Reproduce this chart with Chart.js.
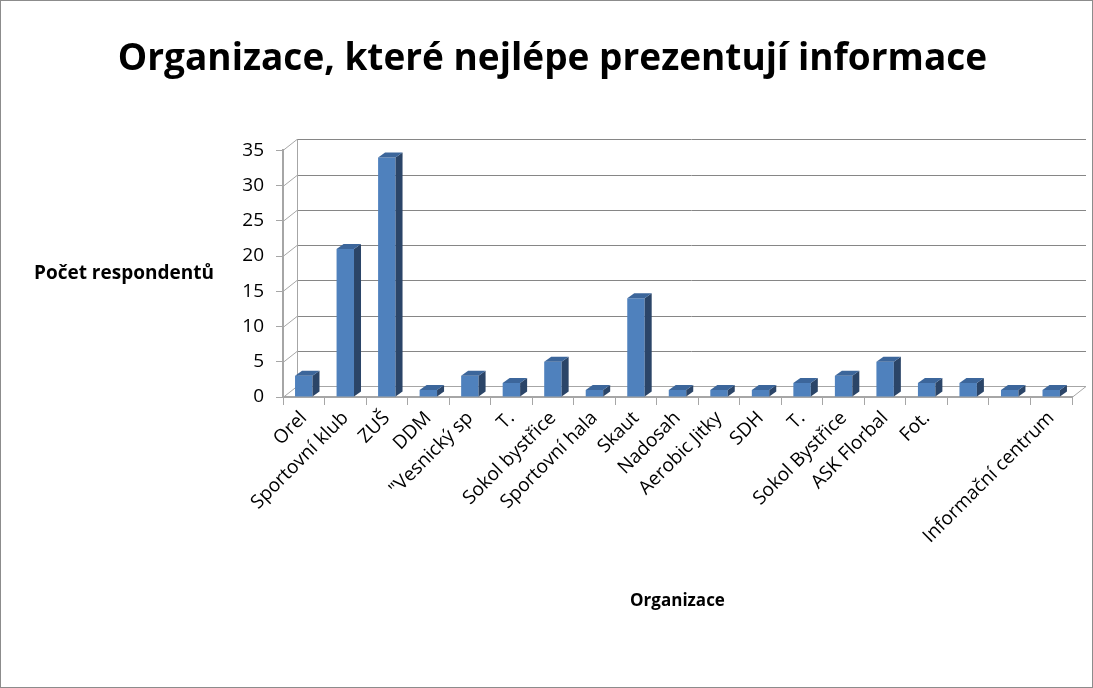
<!DOCTYPE html>
<html>
<head>
<meta charset="utf-8">
<script src="https://cdn.jsdelivr.net/npm/chart.js@4.4.1/dist/chart.umd.min.js"></script>
<style>
    html, body { margin: 0; padding: 0; background: #fff; }
    #wrap { width: 1091px; height: 686px; border: 1px solid #8c8c8c; position: relative; }
    canvas { display: block; }
</style>
</head>
<body>
<div id="wrap"><canvas id="chart" width="1091" height="686"></canvas></div>
<script>
// Chart data
const categories = [
    'Orel', 'Sportovní klub', 'ZUŠ', 'DDM', '"Vesnický sp', 'T.', 'Sokol bystřice',
    'Sportovní hala', 'Skaut', 'Nadosah', 'Aerobic Jitky', 'SDH', 'T.', 'Sokol Bystřice',
    'ASK Florbal', 'Fot.', '', '', 'Informační centrum'
];
const respondents = [3, 21, 34, 1, 3, 2, 5, 1, 14, 1, 1, 1, 2, 3, 5, 2, 2, 1, 1];
const yTicks = [0, 5, 10, 15, 20, 25, 30, 35];

const chartTitle = 'Organizace, které nejlépe prezentují informace';
const yTitle = 'Počet respondentů';
const xTitle = 'Organizace';

// 3D offsets for back wall and bar sides
const DEPTH_X = 14, DEPTH_Y = 11;
const BAR_DX = 7, BAR_DY = 5;

// Back wall grid lines with perspective connectors
const wallPlugin = {
    id: 'wall',
    beforeDatasetsDraw(chart) {
        const ctx = chart.ctx;
        const y = chart.scales.y;
        const area = chart.chartArea;
        ctx.save();
        ctx.lineWidth = 1;
        yTicks.forEach(v => {
            const py = Math.round(y.getPixelForValue(v)) + 0.5;
            ctx.strokeStyle = '#a6a6a6';
            ctx.beginPath();
            ctx.moveTo(area.left, py);
            ctx.lineTo(area.left + DEPTH_X, py - DEPTH_Y);
            ctx.stroke();
            ctx.strokeStyle = v === 0 ? '#a6a6a6' : '#868686';
            ctx.beginPath();
            ctx.moveTo(area.left + DEPTH_X, py - DEPTH_Y);
            ctx.lineTo(area.right + DEPTH_X, py - DEPTH_Y);
            ctx.stroke();
        });
        // back wall left edge
        ctx.strokeStyle = '#a6a6a6';
        ctx.beginPath();
        ctx.moveTo(area.left + DEPTH_X + 0.5, y.getPixelForValue(35) - DEPTH_Y);
        ctx.lineTo(area.left + DEPTH_X + 0.5, y.getPixelForValue(0) - DEPTH_Y);
        ctx.stroke();
        // floor right edge
        const by = Math.round(y.getPixelForValue(0)) + 0.5;
        ctx.beginPath();
        ctx.moveTo(area.right, by);
        ctx.lineTo(area.right + DEPTH_X, by - DEPTH_Y);
        ctx.stroke();
        ctx.restore();
    }
};

// Side and top faces for 3D bars
const barFacesPlugin = {
    id: 'barFaces',
    afterDatasetsDraw(chart) {
        const ctx = chart.ctx;
        const meta = chart.getDatasetMeta(0);
        ctx.save();
        meta.data.forEach(bar => {
            const half = bar.width / 2;
            const l = bar.x - half, r = bar.x + half;
            const top = bar.y, base = bar.base;
            // side
            ctx.fillStyle = '#2b4568';
            ctx.beginPath();
            ctx.moveTo(r, top);
            ctx.lineTo(r + BAR_DX, top - BAR_DY);
            ctx.lineTo(r + BAR_DX, base - BAR_DY);
            ctx.lineTo(r, base);
            ctx.closePath();
            ctx.fill();
            // top
            ctx.fillStyle = '#3c669b';
            ctx.beginPath();
            ctx.moveTo(l, top);
            ctx.lineTo(l + BAR_DX, top - BAR_DY);
            ctx.lineTo(r + BAR_DX, top - BAR_DY);
            ctx.lineTo(r, top);
            ctx.closePath();
            ctx.fill();
        });
        ctx.restore();
    }
};

const ctx = document.getElementById('chart');
new Chart(ctx, {
    type: 'bar',
    data: {
        labels: categories,
        datasets: [{
            data: respondents,
            backgroundColor: '#4f81bd',
            borderWidth: 0,
            barPercentage: 0.42,
            categoryPercentage: 1.0
        }]
    },
    options: {
        responsive: false,
        animation: false,
        layout: {
            padding: { left: 32, right: 20, top: 0, bottom: 72 }
        },
        plugins: {
            legend: { display: false },
            tooltip: { enabled: false },
            title: {
                display: true,
                text: chartTitle,
                color: '#000',
                font: { family: 'Open Sans', size: 37, weight: 'bold' },
                padding: { top: 36, bottom: 69 }
            }
        },
        scales: {
            x: {
                grid: {
                    display: true,
                    offset: true,
                    drawOnChartArea: false,
                    drawTicks: true,
                    tickLength: 8,
                    color: '#a6a6a6'
                },
                border: { display: true, color: '#a6a6a6', width: 2 },
                ticks: {
                    autoSkip: false,
                    maxRotation: 45,
                    minRotation: 45,
                    color: '#000',
                    padding: 2,
                    font: { family: 'Open Sans', size: 19 }
                },
                title: {
                    display: true,
                    text: xTitle,
                    color: '#000',
                    font: { family: 'Open Sans', size: 17, weight: 'bold' },
                    padding: { top: 0 }
                },
                afterFit(scale) {
                    scale.height = 218;
                }
            },
            y: {
                min: 0,
                max: 35,
                afterBuildTicks(scale) {
                    scale.ticks = yTicks.map(v => ({ value: v }));
                },
                grid: {
                    display: true,
                    drawOnChartArea: false,
                    drawTicks: true,
                    tickLength: 7,
                    color: '#a6a6a6'
                },
                border: { display: true, color: '#a6a6a6', width: 2 },
                ticks: {
                    color: '#000',
                    padding: 12,
                    font: { family: 'Open Sans', size: 19 }
                },
                title: {
                    display: false
                },
                afterFit(scale) {
                    scale.width = 250;
                }
            }
        }
    },
    plugins: [wallPlugin, barFacesPlugin, {
        id: 'yTitle',
        afterDraw(chart) {
            const c = chart.ctx;
            const y = chart.scales.y;
            c.save();
            c.font = 'bold 19px "Open Sans"';
            c.fillStyle = '#000';
            c.textAlign = 'left';
            c.textBaseline = 'middle';
            c.fillText(yTitle, 33, (y.getPixelForValue(15) + y.getPixelForValue(20)) / 2);
            c.restore();
        }
    }]
});
</script>
</body>
</html>
